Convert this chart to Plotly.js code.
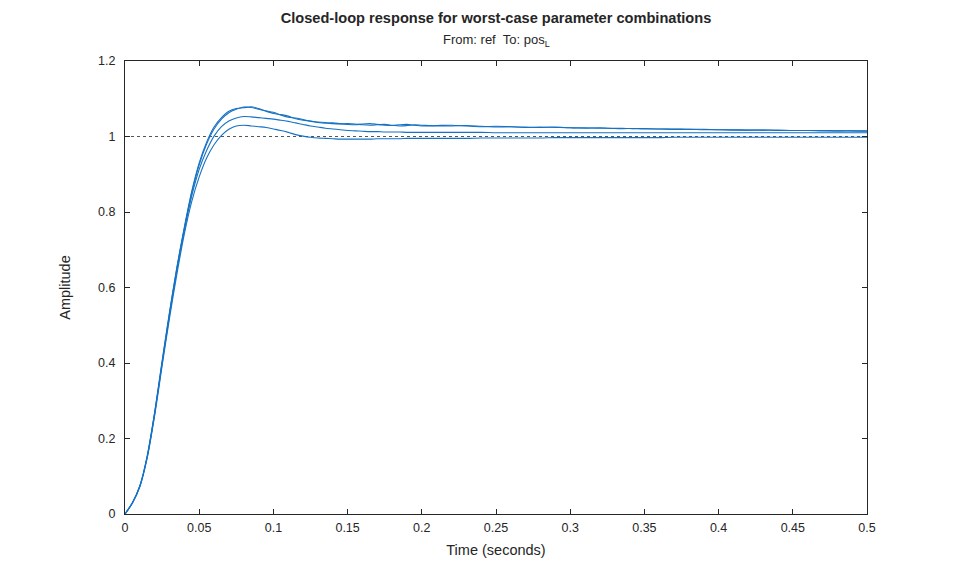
<!DOCTYPE html>
<html>
<head>
<meta charset="utf-8">
<script src="https://cdn.plot.ly/plotly-3.0.1.min.js"></script>
<style>html,body{margin:0;padding:0;background:#fff;}#chart{width:959px;height:577px;}</style>
</head>
<body>
<div id="chart"></div>
<script>
// Time (seconds)
const timeVals = [0,0.005,0.01,0.015,0.02,0.025,0.03,0.035,0.04,0.045,0.05,0.055,0.06,0.065,0.07,0.075,0.08,0.085,0.09,0.095,0.1,0.105,0.11,0.115,0.12,0.125,0.13,0.135,0.14,0.145,0.15,0.155,0.16,0.165,0.17,0.175,0.18,0.185,0.19,0.195,0.2,
0.21,0.22,0.23,0.24,0.25,0.26,0.27,0.28,0.29,0.3,0.31,0.32,0.33,0.34,0.35,0.36,0.37,0.38,0.39,0.4,0.41,0.42,0.43,0.44,0.45,0.46,0.47,0.48,0.49,0.5];

// Amplitude responses for worst-case parameter combinations
const respA = [0,0.03,0.075,0.155,0.27,0.405,0.535,0.655,0.76,0.855,0.93,0.985,1.025,1.05,1.067,1.074,1.076,1.079,1.074,1.067,1.061,1.058,1.054,1.047,1.043,1.041,1.037,1.035,1.036,1.034,1.032,1.031,1.033,1.034,1.032,1.030,1.029,1.031,1.032,1.030,1.028,
1.029,1.030,1.028,1.026,1.027,1.026,1.024,1.025,1.024,1.023,1.023,1.022,1.022,1.021,1.021,1.020,1.020,1.019,1.019,1.018,1.018,1.017,1.017,1.017,1.016,1.016,1.016,1.015,1.015,1.015];
const respB = [0,0.03,0.074,0.153,0.268,0.402,0.532,0.652,0.757,0.851,0.925,0.98,1.02,1.046,1.063,1.072,1.078,1.077,1.072,1.068,1.064,1.057,1.051,1.049,1.045,1.040,1.038,1.037,1.034,1.033,1.034,1.033,1.031,1.030,1.031,1.032,1.030,1.028,1.029,1.031,1.030,
1.028,1.028,1.029,1.027,1.025,1.026,1.025,1.024,1.025,1.023,1.022,1.023,1.021,1.021,1.020,1.020,1.019,1.019,1.018,1.018,1.017,1.017,1.017,1.016,1.016,1.016,1.015,1.015,1.015,1.014];
const respC = [0,0.029,0.073,0.151,0.265,0.398,0.527,0.647,0.752,0.843,0.913,0.963,1.001,1.026,1.041,1.049,1.053,1.052,1.050,1.048,1.046,1.043,1.040,1.036,1.032,1.028,1.025,1.022,1.020,1.018,1.016,1.015,1.014,1.013,1.013,1.012,1.012,1.012,1.011,1.011,1.011,
1.011,1.011,1.011,1.011,1.010,1.010,1.010,1.010,1.010,1.010,1.010,1.010,1.010,1.010,1.010,1.010,1.010,1.010,1.010,1.010,1.010,1.010,1.010,1.010,1.010,1.010,1.010,1.010,1.010,1.010];
const respD = [0,0.029,0.072,0.149,0.261,0.392,0.519,0.636,0.742,0.828,0.893,0.943,0.978,1.003,1.019,1.028,1.030,1.028,1.026,1.024,1.020,1.016,1.011,1.005,1.001,0.998,0.996,0.995,0.994,0.993,0.993,0.993,0.993,0.993,0.994,0.994,0.994,0.994,0.995,0.995,0.995,
0.995,0.995,0.995,0.996,0.996,0.996,0.996,0.996,0.997,0.997,0.997,0.997,0.997,0.997,0.997,0.997,0.998,0.998,0.998,0.998,0.998,0.998,0.998,0.998,0.998,0.998,0.998,0.998,0.998,0.998];

const xTickVals = [0,0.05,0.1,0.15,0.2,0.25,0.3,0.35,0.4,0.45,0.5];
const xTickText = ['0','0.05','0.1','0.15','0.2','0.25','0.3','0.35','0.4','0.45','0.5'];
const yTickVals = [0,0.2,0.4,0.6,0.8,1,1.2];
const yTickText = ['0','0.2','0.4','0.6','0.8','1','1.2'];
const steadyX = [0,0.5];
const steadyY = [1,1];

const lineColor = '#1672c4';
const traces = [
  {x: steadyX, y: steadyY, mode:'lines', line:{color:'#555555', width:1, dash:'dot'}, hoverinfo:'skip'}
];
[respA, respB, respC, respD].forEach(r => {
  traces.push({x: timeVals, y: r, mode:'lines', line:{color: lineColor, width:1.1, shape:'spline', smoothing:0.8}});
});

const FONT = 'Liberation Sans, Arial, sans-serif';
const axisCommon = {
  showline:true, mirror:'ticks', linecolor:'#262626', linewidth:1,
  ticks:'inside', ticklen:5, tickcolor:'#262626', showgrid:false, zeroline:false,
  tickfont:{family:FONT, size:12.5, color:'#262626'},
  tickmode:'array'
};

const layout = {
  width:959, height:577,
  margin:{l:125, r:92, t:61, b:63},
  paper_bgcolor:'#ffffff', plot_bgcolor:'#ffffff',
  showlegend:false,
  font:{family:FONT, color:'#262626'},
  title:{text:'<b>Closed-loop response for worst-case parameter combinations</b>', font:{size:14.6, color:'#262626'}, x:0.5, xanchor:'center', y:1-18/577, yanchor:'middle', xref:'paper', yref:'container'},
  annotations:[{text:'From: ref  To: pos<sub>L</sub>', xref:'paper', yref:'paper', x:0.5, y:1, yshift:21, xanchor:'center', yanchor:'middle', showarrow:false, font:{size:13, color:'#262626'}}],
  xaxis: Object.assign({}, axisCommon, {range:[0,0.5], tickvals:xTickVals, ticktext:xTickText, ticklabelstandoff:2,
    title:{text:'Time (seconds)', font:{size:14.5, color:'#262626'}, standoff:10}}),
  yaxis: Object.assign({}, axisCommon, {range:[0,1.2], tickvals:yTickVals, ticktext:yTickText, ticklabelstandoff:6,
    title:{text:'Amplitude', font:{size:14.5, color:'#262626'}, standoff:24}})
};

Plotly.newPlot('chart', traces, layout, {displayModeBar:false, staticPlot:true});
</script>
</body>
</html>
